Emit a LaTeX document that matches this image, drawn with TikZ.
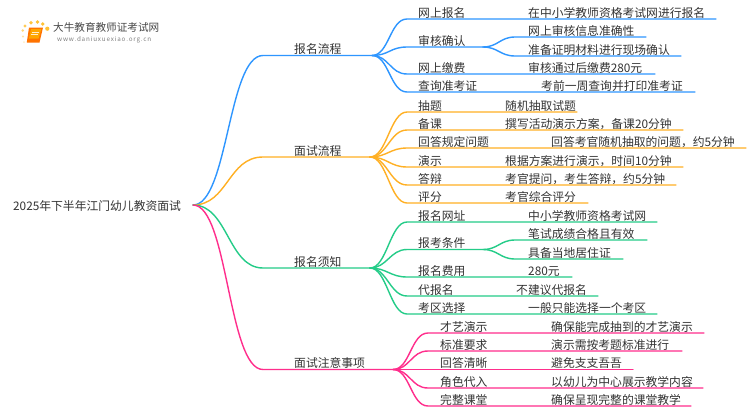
\documentclass[tikz,border=0pt]{standalone}
\usepackage{fontspec}
\setmainfont{Noto Sans CJK SC}
\definecolor{cA}{HTML}{2E96FF}
\definecolor{cB}{HTML}{FFB024}
\definecolor{cC}{HTML}{24CC88}
\definecolor{cD}{HTML}{FF2E8C}
\definecolor{ink}{HTML}{333333}
\tikzset{
  lab/.style={font=\fontsize{11.8}{12}\selectfont,text=ink,inner sep=0pt,anchor=base west},
  wire/.style={line width=1.4pt,line cap=round},
}
\newcommand{\kidL}{418}
\newcommand{\kidS}{407}
% colour, hub, name, y, label, value x, value, end x
\newcommand{\kid}[8]{%
  \node[lab] (#3) at (\kidL,#4-2) {#5};
  \node[lab] (#3v) at (#6,#4-2) {#7};
  \coordinate (#3s) at (\kidS,#4);
  \coordinate (#3e) at (#8,#4);
  \draw[wire,#1] (#2) .. controls +(17,0) and +(-17,0) .. (#3s) -- (#3e);
}
% colour, hub, name, y, label, joint end x
\newcommand{\fork}[6]{%
  \node[lab] (#3) at (\kidL,#4-2) {#5};
  \coordinate (#3s) at (\kidS,#4);
  \coordinate (#3j) at (#6,#4);
  \draw[wire,#1] (#2) .. controls +(17,0) and +(-17,0) .. (#3s) -- (#3j);
}
% colour, hub, name, y, value x, value, end x
\newcommand{\twig}[7]{%
  \node[lab] (#3) at (#5,#4-2) {#6};
  \coordinate (#3s) at (515,#4);
  \coordinate (#3e) at (#7,#4);
  \draw[wire,#1] (#2) .. controls +(15,0) and +(-15,0) .. (#3s) -- (#3e);
}
% colour, name, y, label, joint x
\newcommand{\limb}[5]{%
  \node[lab] (#2) at (294,#3-2) {#4};
  \coordinate (#2s) at (263,#3);
  \coordinate (#2h) at (#5,#3);
  \draw[wire,#1] (root) .. controls (228,205) and (228,#3) .. (#2s) -- (#2h);
}
\begin{document}
\begin{tikzpicture}[x=1pt,y=-1pt]
\useasboundingbox (0,0) rectangle (750,410);
\fill[white] (0,0) rectangle (750,410);

% logo
\foreach \px/\py/\pr/\po in {25/26/1.6/.75,22.7/30.5/1.4/.6,23/36.5/1.2/.4,24/42/1/.25,31/22.7/1.9/.85,37.5/22/1.9/.9,42.7/24/1.9/.9,47.3/28.7/2.1/.9}
  \fill[cB!85!yellow,opacity=\po] (\px,\py) circle (\pr);
\fill[orange!90!red] (29,27.5) -- (43,27.5) -- (39.5,42.5) -- (26.8,42.5) -- cycle;
\fill[orange!70!yellow] (31,29) -- (41.3,29) -- (38.6,38.5) -- (29,38.5) -- cycle;
\draw[white,opacity=.8,line width=.6pt] (32,32) -- (39,32) (31.4,34.5) -- (38.4,34.5);
\node[inner sep=0pt,anchor=base west,text=ink!90,font=\fontsize{10.6}{11}\selectfont] (brand) at (53,31) {大牛教育教师证考试网};
\node[inner sep=0pt,anchor=base west,text=black!50,font=\fontsize{6.3}{7}\selectfont] (site) at (57,41.3) {\addfontfeature{LetterSpace=13}www.daniuxuexiao.org.cn};

% root
\node[lab] (rootlabel) at (13,210) {2025年下半年江门幼儿教资面试};
\coordinate (root) at (193,205);

% branch 1
\limb{cA}{a}{55.5}{报名流程}{372}
\kid{cA}{ah}{a1}{19}{网上报名}{528}{在中小学教师资格考试网进行报名}{716}
\fork{cA}{ah}{a2}{47}{审核确认}{483}
\twig{cA}{a2j}{a2x}{37}{528}{网上审核信息准确性}{646}
\twig{cA}{a2j}{a2y}{56}{528}{准备证明材料进行现场确认}{681}
\kid{cA}{ah}{a3}{74}{网上缴费}{528}{审核通过后缴费280元}{655}
\kid{cA}{ah}{a4}{92}{查询准考证}{541}{考前一周查询并打印准考证}{695}

% branch 2
\limb{cB}{b}{157}{面试流程}{370}
\kid{cB}{bh}{b1}{112}{抽题}{505}{随机抽取试题}{577}
\kid{cB}{bh}{b2}{130}{备课}{505}{撰写活动演示方案，备课20分钟}{683}
\kid{cB}{bh}{b3}{148}{回答规定问题}{551}{回答考官随机抽取的问题，约5分钟}{746}
\kid{cB}{bh}{b4}{167}{演示}{505}{根据方案进行演示，时间10分钟}{683}
\kid{cB}{bh}{b5}{185}{答辩}{505}{考官提问，考生答辩，约5分钟}{676}
\kid{cB}{bh}{b6}{203}{评分}{505}{考官综合评分}{588}

% branch 3
\limb{cC}{c}{268}{报名须知}{370}
\kid{cC}{ch}{c1}{222}{报名网址}{528}{中小学教师资格考试网}{657}
\fork{cC}{ch}{c2}{249.5}{报考条件}{483}
\twig{cC}{c2j}{c2x}{240}{528}{笔试成绩合格且有效}{647}
\twig{cC}{c2j}{c2y}{259}{528}{具备当地居住证}{623}
\kid{cC}{ch}{c3}{277}{报名费用}{528}{280元}{572}
\kid{cC}{ch}{c4}{296}{代报名}{516}{不建议代报名}{598}
\kid{cC}{ch}{c5}{314}{考区选择}{528}{一般只能选择一个考区}{657}

% branch 4
\limb{cD}{d}{369.5}{面试注意事项}{393}
\renewcommand{\kidL}{440}
\renewcommand{\kidS}{428}
\kid{cD}{dh}{d1}{333}{才艺演示}{551}{确保能完成抽到的才艺演示}{704}
\kid{cD}{dh}{d2}{351}{标准要求}{551}{演示需按考题标准进行}{682}
\kid{cD}{dh}{d3}{369.5}{回答清晰}{551}{避免支支吾吾}{633}
\kid{cD}{dh}{d4}{388}{角色代入}{551}{以幼儿为中心展示教学内容}{703}
\kid{cD}{dh}{d5}{406}{完整课堂}{551}{确保呈现完整的课堂教学}{691}
\end{tikzpicture}
\end{document}
